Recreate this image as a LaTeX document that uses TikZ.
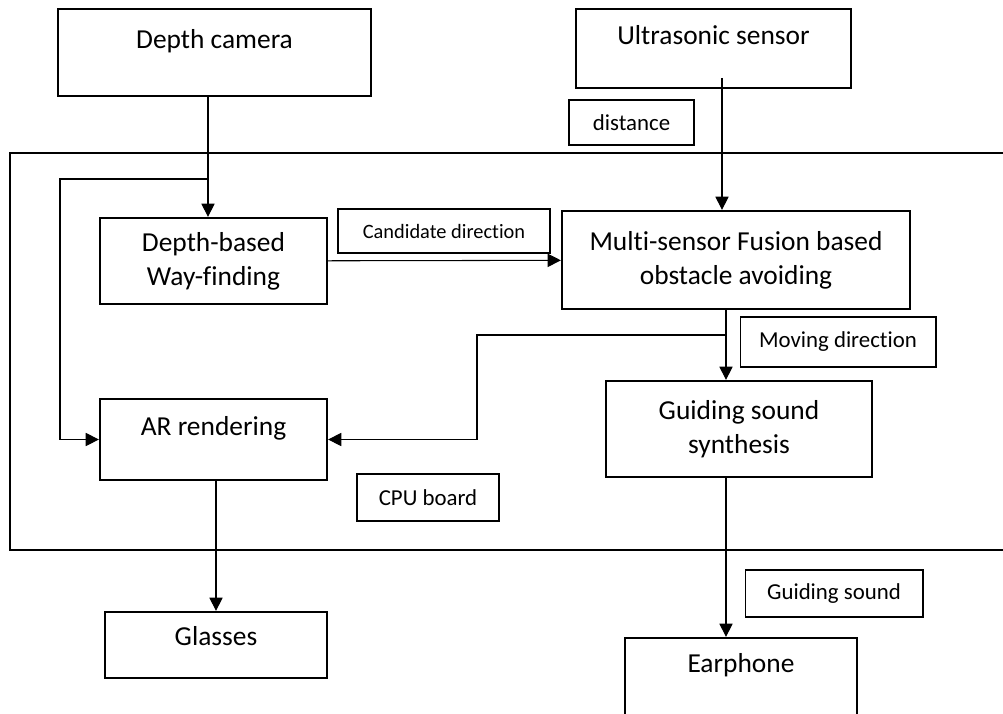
\documentclass[tikz,border=0pt]{standalone}
\usepackage{fontspec}
\setmainfont{Carlito}[Ligatures=NoCommon]
\usetikzlibrary{arrows.meta}

\begin{document}
\begin{tikzpicture} [
    x=0.02cm, y=-0.02cm,
    line width=0.6pt,
    >={Triangle[length=7.5pt,width=7.5pt]},
  ]

  \tikzstyle{block} = [
    draw,
    line width=1.3pt,
    align=center,
    font=\fontsize{15.6}{19.5}\selectfont,
    inner sep=0pt,
  ]
  \tikzstyle{toptext} = [
    text height=11pt,
    text depth=15pt,
  ]
  \tikzstyle{tag} = [
    draw,
    line width=0.6pt,
    font=\fontsize{13}{15}\selectfont,
    inner sep=0pt,
  ]

  \useasboundingbox (0,0) rectangle (1003,713);

  % cpu board frame (right side runs off the page)
  \draw[line width=1.3pt] (1003,153) -- (10,153) -- (10,550) -- (1003,550);

  \node[block,toptext,minimum width=6.26cm,minimum height=1.74cm] (cam)      at (214.5,52.5) {Depth camera};
  \node[block,toptext,minimum width=5.5cm,minimum height=1.58cm]  (sonar)    at (713.5,48.5) {Ultrasonic sensor};
  \node[block,minimum width=4.54cm,minimum height=1.72cm]         (wayfind)  at (213.5,261)  {Depth-based\\Way-finding};
  \node[block,minimum width=6.96cm,minimum height=1.96cm]         (fusion)   at (736,260)    {Multi-sensor Fusion based\\obstacle avoiding};
  \node[block,toptext,minimum width=4.54cm,minimum height=1.62cm] (arrender) at (213.5,439.5) {AR rendering};
  \node[block,minimum width=5.32cm,minimum height=1.92cm]         (synth)    at (739,429)    {Guiding sound\\synthesis};
  \node[block,minimum width=4.44cm,minimum height=1.32cm,text height=11pt,text depth=11pt] (glasses) at (216,645) {Glasses};
  \node[block,toptext,minimum width=4.64cm,minimum height=1.54cm] (earphone) at (741,676.5) {Earphone};

  \node[tag,minimum width=2.5cm,minimum height=0.9cm]   (lbldist)  at (631.5,122.5) {distance};
  \node[tag,minimum width=4.24cm,minimum height=0.88cm,font=\fontsize{11.6}{14}\selectfont] (lblcand) at (444,231) {Candidate direction};
  \node[tag,minimum width=3.92cm,minimum height=1.0cm]  (lblmove)  at (838,342)     {Moving direction};
  \node[tag,minimum width=2.84cm,minimum height=0.94cm] (lblcpu)   at (428,497.5)   {CPU board};
  \node[tag,minimum width=3.56cm,minimum height=0.94cm] (lblsound) at (834,593.5)   {Guiding sound};

  \coordinate (forkcam)  at (208,179);
  \coordinate (leftbend) at (60,179);
  \coordinate (sonarout) at (722,78);
  \coordinate (forkmove) at (726,335);
  \coordinate (movebend) at (477,335);

  \draw[->] (cam.south -| forkcam) -- (wayfind.north -| forkcam);
  \draw[->] (forkcam) -- (leftbend) |- (arrender.west);
  \draw[->] (sonarout) -- (sonarout |- fusion.north);
  \path[->] (wayfind) edge (fusion);
  \draw[->] (fusion.south -| forkmove) -- (synth.north -| forkmove);
  \draw[->] (forkmove) -- (movebend) |- (arrender.east);
  \draw[->] (arrender.south -| glasses.north) -- (glasses.north);
  \draw[->] (synth.south -| forkmove) -- (earphone.north -| forkmove);

\end{tikzpicture}
\end{document}
